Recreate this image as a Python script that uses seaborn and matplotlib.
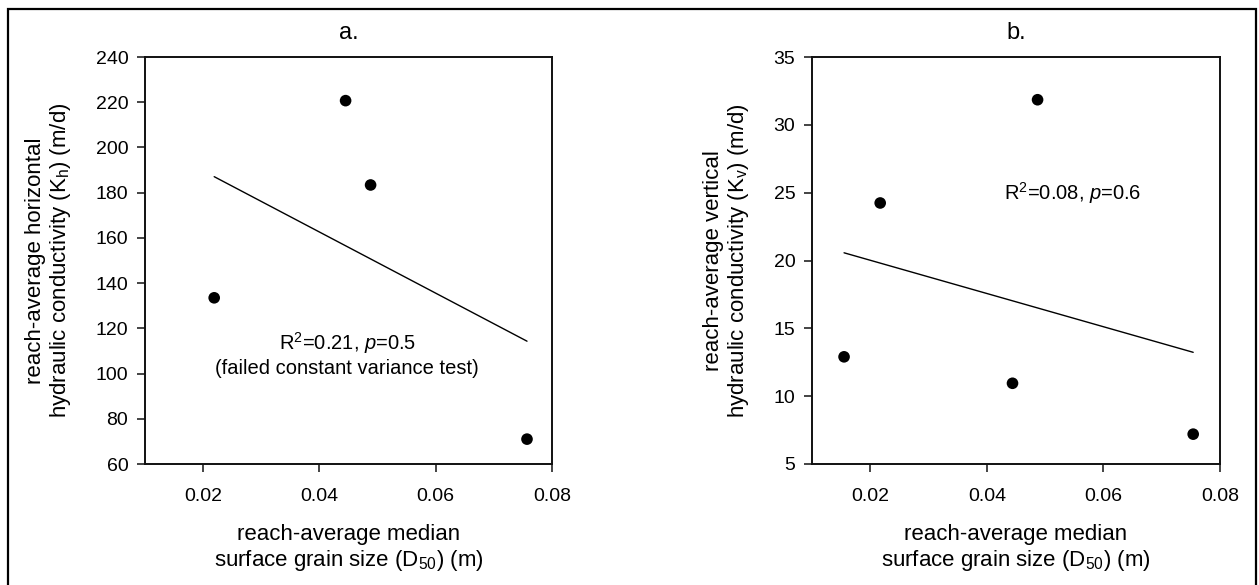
import matplotlib
matplotlib.use("Agg")
import matplotlib.pyplot as plt
import matplotlib.patches as mpatches
import seaborn as sns
import pandas as pd

# ---- data ----
d50_a = [0.0219, 0.0445, 0.0488, 0.0757]
kh_a = [133.5, 220.7, 183.4, 71.0]

d50_b = [0.0155, 0.0217, 0.0444, 0.0487, 0.0754]
kv_b = [12.9, 24.24, 10.95, 31.85, 7.2]

xticks = [0.02, 0.04, 0.06, 0.08]
yticks_a = [60, 80, 100, 120, 140, 160, 180, 200, 220, 240]
yticks_b = [5, 10, 15, 20, 25, 30, 35]

titles = ["a.", "b."]
xlabel = "reach-average median\nsurface grain size (D$_{50}$) (m)"
ylabel_a = "reach-average horizontal\nhydraulic conductivity (K$_{h}$) (m/d)"
ylabel_b = "reach-average vertical\nhydraulic conductivity (K$_{v}$) (m/d)"
stats_a = "R$^2$=0.21, $\\mathit{p}$=0.5\n(failed constant variance test)"
stats_b = "R$^2$=0.08, $\\mathit{p}$=0.6"

sns.set_style("ticks")
plt.rcParams["font.family"] = ["Liberation Sans", "DejaVu Sans"]
plt.rcParams["mathtext.fontset"] = "custom"
plt.rcParams["mathtext.rm"] = "Liberation Sans"
plt.rcParams["mathtext.it"] = "Liberation Sans:italic"
plt.rcParams["mathtext.default"] = "regular"
for key in ["text.color", "axes.labelcolor", "xtick.color", "ytick.color",
            "axes.edgecolor"]:
    plt.rcParams[key] = "black"

W, H = 1259, 585
fig = plt.figure(figsize=(W / 100, H / 100), dpi=100)
fig.patch.set_facecolor("white")

ax_a = fig.add_axes([145 / W, (H - 464) / H, 407 / W, 407 / H])
ax_b = fig.add_axes([812 / W, (H - 464) / H, 408 / W, 407 / H])

df_a = pd.DataFrame({"d50": d50_a, "k": kh_a})
df_b = pd.DataFrame({"d50": d50_b, "k": kv_b})

spine_col = "#111111"
for ax, df, yt, ylab, title in [
    (ax_a, df_a, yticks_a, ylabel_a, titles[0]),
    (ax_b, df_b, yticks_b, ylabel_b, titles[1]),
]:
    sns.regplot(data=df, x="d50", y="k", ax=ax, ci=None, truncate=True,
                scatter_kws=dict(s=70, color="black", edgecolors="none",
                                 alpha=1.0, zorder=3),
                line_kws=dict(color="black", lw=1.0))
    ax.set_xlim(0.01, 0.08)
    ax.set_ylim(yt[0], yt[-1])
    ax.set_xticks(xticks)
    ax.set_xticklabels([f"{v:.2f}" for v in xticks])
    ax.set_yticks(yt)
    ax.set_yticklabels([str(v) for v in yt])
    ax.tick_params(axis="both", direction="out", length=6, width=1.1,
                   colors=spine_col, labelcolor="black", labelsize=14)
    ax.tick_params(axis="x", pad=11)
    ax.tick_params(axis="y", pad=6)
    for sp in ax.spines.values():
        sp.set_visible(True)
        sp.set_linewidth(1.4)
        sp.set_color(spine_col)
    ax.set_xlabel(xlabel, fontsize=16, labelpad=14, linespacing=1.15)
    ax.set_ylabel(ylab, fontsize=16, labelpad=16, linespacing=1.15)
    ax.set_title(title, fontsize=17, pad=13)
    ax.set_facecolor("white")

ax_a.text(0.0448, 113.5, stats_a.split("\n")[0], ha="center", va="center", fontsize=14.5)
ax_a.text(0.0448, 102.4, stats_a.split("\n")[1], ha="center", va="center", fontsize=14.5)
ax_b.text(0.0548, 25.0, stats_b, ha="center", va="center", fontsize=14.5)

# outer frame around the figure
frame = mpatches.Rectangle((8 / W, -0.05), (1256 - 8) / W, 1 - 9 / H + 0.05,
                           transform=fig.transFigure, fill=False,
                           edgecolor="black", lw=1.6)
fig.patches.append(frame)

fig.savefig("out.png", dpi=100, facecolor="white")
